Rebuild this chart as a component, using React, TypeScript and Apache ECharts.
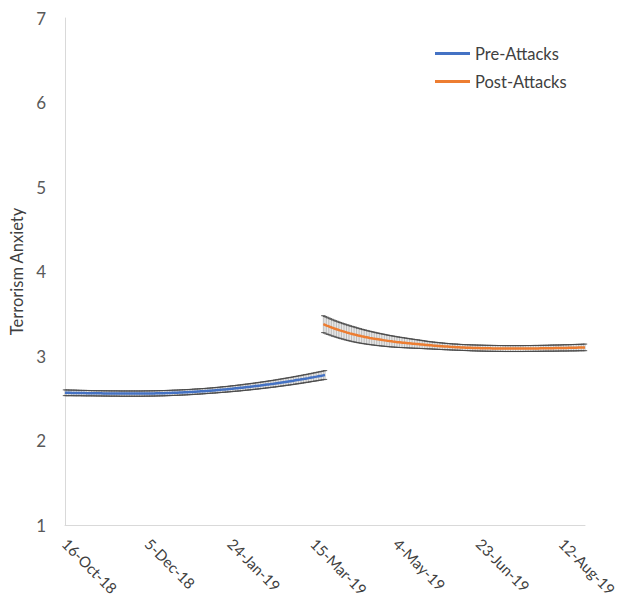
import React, { useEffect, useRef } from "react";
import * as echarts from "echarts";

// Day 0 of the time axis
const START_DATE = Date.UTC(2018, 9, 16);
const MONTHS = ["Jan", "Feb", "Mar", "Apr", "May", "Jun", "Jul", "Aug", "Sep", "Oct", "Nov", "Dec"];

// x-axis: days since 16-Oct-18, labelled every 50 days
const X_MIN = 0;
const X_MAX = 314;
const X_STEP = 50;
const Y_MIN = 1;
const Y_MAX = 7;

const SERIES_NAMES = ["Pre-Attacks", "Post-Attacks"];

// Pre-Attacks: one estimate per day starting at day 0
const PRE_START = 0;
const preMean = [
  2.565, 2.564, 2.564, 2.564, 2.563, 2.563, 2.563, 2.562, 2.562, 2.562,
  2.561, 2.561, 2.561, 2.56, 2.56, 2.56, 2.559, 2.559, 2.559, 2.558,
  2.558, 2.558, 2.558, 2.557, 2.557, 2.557, 2.557, 2.556, 2.556, 2.556,
  2.556, 2.556, 2.556, 2.555, 2.555, 2.555, 2.555, 2.555, 2.555, 2.555,
  2.555, 2.555, 2.555, 2.555, 2.555, 2.555, 2.555, 2.555, 2.556, 2.556,
  2.556, 2.556, 2.557, 2.557, 2.557, 2.558, 2.558, 2.559, 2.559, 2.56,
  2.56, 2.561, 2.562, 2.562, 2.563, 2.564, 2.565, 2.565, 2.566, 2.567,
  2.568, 2.569, 2.57, 2.571, 2.572, 2.573, 2.574, 2.575, 2.577, 2.578,
  2.579, 2.58, 2.582, 2.583, 2.584, 2.586, 2.587, 2.589, 2.59, 2.592,
  2.593, 2.595, 2.597, 2.598, 2.6, 2.602, 2.604, 2.605, 2.607, 2.609,
  2.611, 2.613, 2.615, 2.617, 2.619, 2.621, 2.623, 2.625, 2.628, 2.63,
  2.632, 2.634, 2.637, 2.639, 2.641, 2.644, 2.646, 2.649, 2.651, 2.654,
  2.656, 2.659, 2.662, 2.664, 2.667, 2.67, 2.672, 2.675, 2.678, 2.681,
  2.684, 2.687, 2.69, 2.693, 2.696, 2.699, 2.702, 2.705, 2.708, 2.712,
  2.715, 2.718, 2.721, 2.725, 2.728, 2.732, 2.735, 2.738, 2.742, 2.746,
  2.749, 2.753, 2.756, 2.76, 2.764, 2.767, 2.771, 2.775,
];
// half-width of each daily error bar
const preErr = [
  0.034, 0.034, 0.034, 0.033, 0.033, 0.033, 0.033, 0.033, 0.032, 0.032,
  0.032, 0.032, 0.032, 0.032, 0.032, 0.031, 0.031, 0.031, 0.031, 0.031,
  0.031, 0.031, 0.031, 0.031, 0.031, 0.031, 0.031, 0.031, 0.031, 0.031,
  0.031, 0.031, 0.031, 0.031, 0.031, 0.031, 0.031, 0.031, 0.031, 0.031,
  0.031, 0.031, 0.031, 0.031, 0.031, 0.031, 0.031, 0.031, 0.031, 0.031,
  0.031, 0.031, 0.031, 0.031, 0.031, 0.031, 0.031, 0.031, 0.031, 0.031,
  0.031, 0.031, 0.031, 0.031, 0.031, 0.031, 0.031, 0.031, 0.031, 0.031,
  0.031, 0.031, 0.031, 0.031, 0.031, 0.031, 0.031, 0.031, 0.031, 0.031,
  0.031, 0.031, 0.031, 0.031, 0.031, 0.031, 0.031, 0.031, 0.031, 0.031,
  0.032, 0.032, 0.032, 0.032, 0.032, 0.033, 0.033, 0.033, 0.033, 0.033,
  0.034, 0.034, 0.034, 0.034, 0.035, 0.035, 0.035, 0.035, 0.036, 0.036,
  0.036, 0.036, 0.037, 0.037, 0.037, 0.037, 0.038, 0.038, 0.038, 0.039,
  0.039, 0.039, 0.039, 0.04, 0.04, 0.04, 0.041, 0.041, 0.041, 0.042,
  0.042, 0.042, 0.043, 0.043, 0.043, 0.044, 0.044, 0.044, 0.045, 0.045,
  0.045, 0.046, 0.046, 0.046, 0.047, 0.047, 0.047, 0.048, 0.048, 0.048,
  0.049, 0.049, 0.05, 0.05, 0.05, 0.051, 0.051, 0.052,
];

// Post-Attacks: one estimate per day starting at day 156
const POST_START = 156;
const postMean = [
  3.377, 3.369, 3.36, 3.353, 3.345, 3.337, 3.33, 3.323, 3.316, 3.31,
  3.303, 3.297, 3.291, 3.285, 3.279, 3.274, 3.268, 3.263, 3.258, 3.253,
  3.248, 3.243, 3.239, 3.234, 3.23, 3.226, 3.222, 3.218, 3.214, 3.211,
  3.207, 3.204, 3.2, 3.197, 3.194, 3.191, 3.188, 3.185, 3.182, 3.179,
  3.176, 3.174, 3.171, 3.169, 3.166, 3.164, 3.162, 3.16, 3.158, 3.156,
  3.154, 3.152, 3.15, 3.148, 3.146, 3.144, 3.142, 3.141, 3.139, 3.137,
  3.135, 3.133, 3.131, 3.129, 3.127, 3.126, 3.124, 3.122, 3.121, 3.119,
  3.118, 3.116, 3.115, 3.113, 3.112, 3.111, 3.11, 3.108, 3.107, 3.106,
  3.105, 3.104, 3.103, 3.102, 3.101, 3.1, 3.099, 3.099, 3.098, 3.097,
  3.096, 3.096, 3.095, 3.094, 3.094, 3.093, 3.093, 3.092, 3.092, 3.091,
  3.091, 3.091, 3.09, 3.09, 3.09, 3.089, 3.089, 3.089, 3.089, 3.088,
  3.088, 3.088, 3.088, 3.088, 3.088, 3.088, 3.088, 3.088, 3.088, 3.088,
  3.088, 3.088, 3.089, 3.089, 3.089, 3.089, 3.089, 3.09, 3.09, 3.09,
  3.09, 3.091, 3.091, 3.091, 3.092, 3.092, 3.092, 3.093, 3.093, 3.093,
  3.094, 3.094, 3.094, 3.095, 3.095, 3.096, 3.096, 3.096, 3.097, 3.097,
  3.098, 3.098, 3.099, 3.099, 3.1, 3.1, 3.101, 3.101, 3.102,
];
const postErr = [
  0.1, 0.099, 0.099, 0.098, 0.097, 0.097, 0.096, 0.095, 0.095, 0.094,
  0.094, 0.093, 0.092, 0.092, 0.091, 0.091, 0.09, 0.089, 0.089, 0.088,
  0.087, 0.086, 0.085, 0.084, 0.083, 0.082, 0.081, 0.08, 0.079, 0.078,
  0.077, 0.076, 0.075, 0.074, 0.073, 0.072, 0.071, 0.07, 0.069, 0.068,
  0.067, 0.066, 0.065, 0.064, 0.063, 0.062, 0.061, 0.06, 0.059, 0.058,
  0.057, 0.056, 0.055, 0.054, 0.053, 0.052, 0.051, 0.05, 0.049, 0.048,
  0.047, 0.046, 0.045, 0.044, 0.043, 0.042, 0.042, 0.041, 0.041, 0.04,
  0.04, 0.039, 0.039, 0.038, 0.038, 0.037, 0.037, 0.037, 0.036, 0.036,
  0.036, 0.036, 0.035, 0.035, 0.035, 0.035, 0.035, 0.035, 0.035, 0.035,
  0.035, 0.035, 0.035, 0.035, 0.035, 0.035, 0.035, 0.035, 0.035, 0.035,
  0.035, 0.035, 0.035, 0.035, 0.035, 0.035, 0.035, 0.035, 0.035, 0.035,
  0.035, 0.035, 0.035, 0.035, 0.035, 0.035, 0.035, 0.035, 0.035, 0.035,
  0.035, 0.035, 0.035, 0.035, 0.035, 0.035, 0.035, 0.035, 0.035, 0.035,
  0.035, 0.035, 0.035, 0.035, 0.035, 0.035, 0.035, 0.036, 0.036, 0.036,
  0.036, 0.036, 0.036, 0.036, 0.036, 0.037, 0.037, 0.037, 0.037, 0.037,
  0.037, 0.038, 0.038, 0.038, 0.038, 0.038, 0.038, 0.039, 0.039,
];

const COLORS = ["#4472C4", "#ED7D31"];
const FONT = "Lato, 'Open Sans', sans-serif";

function dayLabel(day: number): string {
  const d = new Date(START_DATE + day * 86400000);
  const yy = String(d.getUTCFullYear() % 100).padStart(2, "0");
  return `${d.getUTCDate()}-${MONTHS[d.getUTCMonth()]}-${yy}`;
}

function toLine(start: number, mean: number[]) {
  return mean.map((v, i) => [start + i, v]);
}

function toBars(start: number, mean: number[], err: number[]) {
  return mean.map((v, i) => [start + i, v, err[i]]);
}

// Vertical error bar with a short cap at each end
function renderErrorBar(_params: any, api: any) {
  const x = api.value(0);
  const m = api.value(1);
  const e = api.value(2);
  const top = api.coord([x, m + e]);
  const bot = api.coord([x, m - e]);
  const cap = 2.2;
  return {
    type: "group",
    children: [
      {
        type: "line",
        shape: { x1: top[0], y1: top[1], x2: bot[0], y2: bot[1] },
        style: { stroke: "#9c9c9c", lineWidth: 0.7 },
      },
      {
        type: "line",
        shape: { x1: top[0] - cap, y1: top[1], x2: top[0] + cap, y2: top[1] },
        style: { stroke: "#4a4a4a", lineWidth: 0.9 },
      },
      {
        type: "line",
        shape: { x1: bot[0] - cap, y1: bot[1], x2: bot[0] + cap, y2: bot[1] },
        style: { stroke: "#4a4a4a", lineWidth: 0.9 },
      },
    ],
  };
}

export default function App() {
  const ref = useRef<HTMLDivElement>(null);

  useEffect(() => {
    if (!ref.current) return;
    const chart = echarts.init(ref.current, null, { renderer: "svg" });
    chart.setOption({
      animation: false,
      backgroundColor: "#ffffff",
      textStyle: { fontFamily: FONT },
      grid: {
        left: 65,
        right: 40,
        top: 18,
        bottom: 74,
        containLabel: false,
        outerBoundsMode: "none",
      },
      legend: {
        data: SERIES_NAMES,
        orient: "vertical",
        left: 430,
        top: 40,
        icon: "rect",
        itemWidth: 35,
        itemHeight: 3,
        itemGap: 11,
        textStyle: { fontSize: 16.5, color: "#404040", fontFamily: FONT },
      },
      xAxis: {
        type: "value",
        min: X_MIN,
        max: X_MAX,
        interval: X_STEP,
        axisLine: { show: true, lineStyle: { color: "#d9d9d9", width: 1 } },
        axisTick: { show: false },
        splitLine: { show: false },
        axisLabel: {
          rotate: -45,
          margin: 16,
          fontSize: 15,
          color: "#404040",
          fontFamily: FONT,
          showMaxLabel: false,
          formatter: (v: number) => dayLabel(v),
        },
      },
      yAxis: {
        type: "value",
        min: Y_MIN,
        max: Y_MAX,
        interval: 1,
        name: "Terrorism Anxiety",
        nameLocation: "middle",
        nameGap: 39,
        nameTextStyle: { fontSize: 16.5, color: "#404040", fontFamily: FONT },
        axisLine: { show: true, lineStyle: { color: "#d9d9d9", width: 1 } },
        axisTick: { show: false },
        splitLine: { show: false },
        axisLabel: { fontSize: 17, color: "#595959", margin: 19, fontFamily: FONT },
      },
      series: [
        {
          name: "preErr",
          type: "custom",
          renderItem: renderErrorBar,
          data: toBars(PRE_START, preMean, preErr),
          encode: { x: 0, y: 1 },
          z: 1,
          silent: true,
        },
        {
          name: "postErr",
          type: "custom",
          renderItem: renderErrorBar,
          data: toBars(POST_START, postMean, postErr),
          encode: { x: 0, y: 1 },
          z: 1,
          silent: true,
        },
        {
          name: SERIES_NAMES[0],
          type: "line",
          data: toLine(PRE_START, preMean),
          showSymbol: false,
          symbol: "none",
          color: COLORS[0],
          lineStyle: { color: COLORS[0], width: 2.5 },
          z: 3,
        },
        {
          name: SERIES_NAMES[1],
          type: "line",
          data: toLine(POST_START, postMean),
          showSymbol: false,
          symbol: "none",
          color: COLORS[1],
          lineStyle: { color: COLORS[1], width: 2.5 },
          z: 3,
        },
      ],
    });
    return () => chart.dispose();
  }, []);

  return (
    <div
      ref={ref}
      style={{ position: "absolute", left: 0, top: 0, width: 625, height: 599, background: "#fff" }}
    />
  );
}
